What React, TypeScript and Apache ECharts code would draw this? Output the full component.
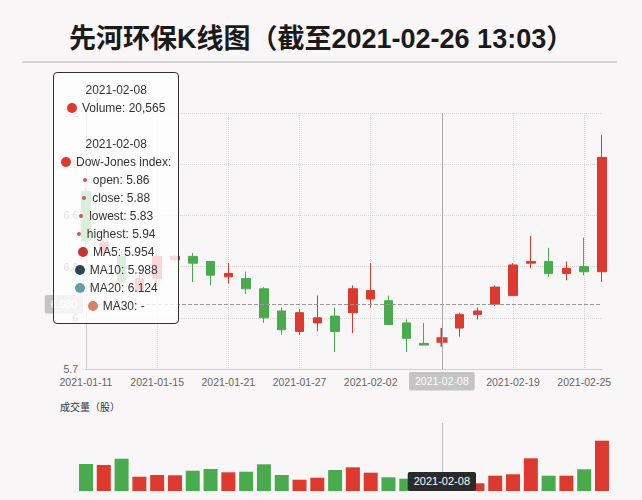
import React, { useEffect, useRef } from 'react';
import * as echarts from 'echarts';

const titleText = '先河环保K线图（截至2021-02-26 13:03）';
const volumeTitle = '成交量（股）';
const seriesName = 'Dow-Jones index';

const dates = [
  '2021-01-11', '2021-01-12', '2021-01-13', '2021-01-14', '2021-01-15',
  '2021-01-18', '2021-01-19', '2021-01-20', '2021-01-21', '2021-01-22',
  '2021-01-25', '2021-01-26', '2021-01-27', '2021-01-28', '2021-01-29',
  '2021-02-01', '2021-02-02', '2021-02-03', '2021-02-04', '2021-02-05',
  '2021-02-08', '2021-02-09', '2021-02-10', '2021-02-18', '2021-02-19',
  '2021-02-22', '2021-02-23', '2021-02-24', '2021-02-25', '2021-02-26',
];
const opens = [6.74, 6.38, 6.36, 6.16, 6.23, 6.34, 6.36, 6.33, 6.24, 6.23, 6.17, 6.04, 5.92, 5.97, 6.01, 6.03, 6.11, 6.10, 5.97, 5.85, 5.86, 5.94, 6.02, 6.08, 6.13, 6.32, 6.33, 6.26, 6.30, 6.27];
const closes = [6.45, 6.44, 6.21, 6.23, 6.36, 6.36, 6.32, 6.25, 6.26, 6.17, 6.00, 5.93, 6.03, 6.00, 5.92, 6.17, 6.16, 5.96, 5.88, 5.84, 5.88, 6.02, 6.04, 6.18, 6.31, 6.33, 6.26, 6.29, 6.27, 6.94];
const lows = [6.40, 6.36, 6.17, 6.14, 6.21, 6.33, 6.21, 6.19, 6.20, 6.14, 5.97, 5.90, 5.90, 5.92, 5.80, 5.91, 6.06, 5.96, 5.80, 5.84, 5.83, 5.89, 5.99, 6.07, 6.13, 6.29, 6.24, 6.22, 6.25, 6.21];
const highs = [6.77, 6.46, 6.39, 6.25, 6.38, 6.37, 6.38, 6.33, 6.32, 6.27, 6.18, 6.06, 6.05, 6.13, 6.06, 6.19, 6.32, 6.13, 5.99, 5.97, 5.94, 6.03, 6.06, 6.19, 6.32, 6.48, 6.41, 6.33, 6.47, 7.07];
const volumes = [47600, 45900, 57000, 25200, 28200, 27700, 35800, 38800, 33000, 34000, 47100, 28200, 19900, 23500, 37100, 41800, 32300, 24200, 21700, 16000, 20565, 25000, 13600, 27000, 29500, 57700, 27000, 27000, 38300, 88800];

const maNames = ['MA5', 'MA10', 'MA20', 'MA30'];
const maAtCursor = ['5.954', '5.988', '6.124', '-'];
const maColors = ['#c23531', '#2f4554', '#61a0a8', '#d48265'];

const cursorIndex = 20;
const cursorPrice = 6.08;

export default function App() {
  const ref = useRef<HTMLDivElement>(null);
  useEffect(() => {
    const el = ref.current as HTMLDivElement;
    const chart = echarts.init(el, null, { renderer: 'svg' });
    const font = "'Liberation Sans', 'Noto Sans CJK SC', sans-serif";
    const red = '#dc3a2f';
    const green = '#4aab4e';
    const candleData = dates.map((_, i) => [opens[i], closes[i], lows[i], highs[i]]);
    const volData = volumes.map((v, i) => ({
      value: v,
      itemStyle: { color: closes[i] >= opens[i] ? red : green },
    }));
    const dot = (c: string, s: number, mr: number) =>
      `<span style="display:inline-block;margin-right:${mr}px;border-radius:50%;width:${s}px;height:${s}px;background-color:${c};vertical-align:middle;position:relative;top:-1px"></span>`;

    chart.setOption({
      animation: false,
      backgroundColor: '#f9f6f7',
      textStyle: { fontFamily: font },
      title: [
        {
          text: titleText,
          left: 64,
          top: 20,
          textStyle: { fontSize: 27, fontWeight: 'bold', color: '#1a1a1a', fontFamily: font },
        },
        {
          text: volumeTitle,
          left: 55,
          top: 397,
          textStyle: { fontSize: 10, fontWeight: 'normal', color: '#333', fontFamily: font },
        },
      ],
      graphic: [
        {
          type: 'line',
          silent: true,
          shape: { x1: 22, y1: 62, x2: 617, y2: 62 },
          style: { stroke: '#c8c8c8', lineWidth: 1.5 },
        },
      ],
      tooltip: {
        trigger: 'axis',
        alwaysShowContent: true,
        transitionDuration: 0,
        showDelay: 0,
        position: [53, 72],
        axisPointer: { type: 'cross', crossStyle: { color: '#999', type: 'dashed' } },
        backgroundColor: 'rgba(255,255,255,0.8)',
        borderColor: '#333',
        borderWidth: 1,
        borderRadius: 4,
        padding: [8, 7],
        textStyle: { color: '#333', fontSize: 12, fontFamily: font },
        extraCssText: 'text-align:center;box-shadow:none;line-height:18px;',
        formatter: (params: any) => {
          const arr = Array.isArray(params) ? params : [params];
          const i = arr[0].dataIndex;
          const c = closes[i] >= opens[i] ? red : green;
          const small = (t: string) => `${dot('#d9534f', 4, 6)}${t}`;
          return [
            dates[i],
            `${dot(c, 10, 5)}Volume: ${volumes[i].toLocaleString('en-US')}`,
            '',
            dates[i],
            `${dot(c, 10, 5)}${seriesName}:`,
            small(`open: ${opens[i]}`),
            small(`close: ${closes[i]}`),
            small(`lowest: ${lows[i]}`),
            small(`highest: ${highs[i]}`),
            ...maNames.map((n, k) => `${dot(maColors[k], 10, 5)}${n}: ${maAtCursor[k]}`),
          ].join('<br/>');
        },
      },
      axisPointer: {
        link: [{ xAxisIndex: 'all' }],
        animation: false,
        lineStyle: { color: '#aaa', width: 1 },
        label: { color: '#fff', fontSize: 10.5, padding: [4, 6], borderRadius: 2, fontFamily: font },
      },
      grid: [
        { left: 86, top: 113, width: 516, height: 256 },
        { left: 86, top: 423, width: 516, height: 68 },
      ],
      xAxis: [
        {
          type: 'category',
          gridIndex: 0,
          data: dates,
          boundaryGap: false,
          axisLine: { lineStyle: { color: '#ccc' } },
          axisTick: { show: false },
          axisLabel: { interval: 3, color: '#666', fontSize: 10.5, margin: 8 },
          splitLine: { show: true, interval: 3, lineStyle: { color: '#d6d6d6', type: 'dotted' } },
          axisPointer: {
            lineStyle: { color: '#aaa', width: 1, type: 'solid' },
            label: { backgroundColor: '#c4c4c4' },
          },
        },
        {
          type: 'category',
          gridIndex: 1,
          data: dates,
          boundaryGap: false,
          axisLine: { show: false, lineStyle: { color: '#2b2b2b' } },
          axisTick: { show: false },
          axisLabel: { show: false, inside: true },
          splitLine: { show: false },
          axisPointer: {
            lineStyle: { color: '#bbb', width: 1, type: 'solid' },
            label: { backgroundColor: '#2b2b2b', margin: 0, fontSize: 11 },
          },
        },
      ],
      yAxis: [
        {
          type: 'value',
          gridIndex: 0,
          scale: true,
          min: 5.7,
          max: 7.2,
          interval: 0.3,
          axisLine: { show: true, lineStyle: { color: '#ccc' } },
          axisTick: { show: false },
          axisLabel: { color: '#666', fontSize: 10.5 },
          splitLine: { show: true, lineStyle: { color: '#d6d6d6', type: 'dotted' } },
          axisPointer: { label: { backgroundColor: '#c4c4c4' } },
        },
        {
          type: 'value',
          gridIndex: 1,
          min: 0,
          max: 120000,
          axisLine: { show: false },
          axisTick: { show: false },
          axisLabel: { show: false },
          splitLine: { show: false },
        },
      ],
      series: [
        {
          name: seriesName,
          type: 'candlestick',
          xAxisIndex: 0,
          yAxisIndex: 0,
          data: candleData,
          barWidth: 9,
          clip: false,
          itemStyle: { color: red, color0: green, borderColor: red, borderColor0: green, borderWidth: 1 },
        },
        {
          name: 'Volume',
          type: 'bar',
          xAxisIndex: 1,
          yAxisIndex: 1,
          data: volData,
          barWidth: 14,
          clip: false,
        },
      ],
    });

    const px = chart.convertToPixel({ xAxisIndex: 0 }, cursorIndex) as number;
    const py = chart.convertToPixel({ yAxisIndex: 0 }, cursorPrice) as number;
    chart.dispatchAction({ type: 'showTip', x: px, y: py });

    return () => chart.dispose();
  }, []);
  return <div ref={ref} style={{ position: 'absolute', left: 0, top: 0, width: 642, height: 500 }} />;
}
